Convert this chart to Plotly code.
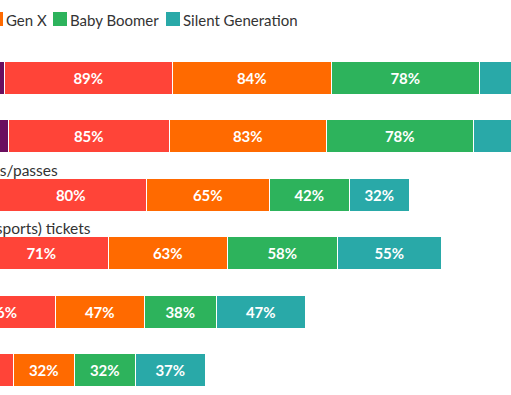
import plotly.graph_objects as go

# ---- data ----
categories = [
    "Restaurants and dining",
    "Groceries",
    "Theme park tickets/passes",
    "Live event (concerts, sports) tickets",
    "Hotels",
    "Airline tickets",
]
generations = ["Gen Z", "Millennial", "Gen X", "Baby Boomer", "Silent Generation"]
gen_z = [90, 92, 85, 74, 61, 55]
millennial = [89, 85, 80, 71, 56, 40]
gen_x = [84, 83, 65, 63, 47, 32]
baby_boomer = [78, 78, 42, 58, 38, 32]
silent_generation = [70, 68, 32, 55, 47, 37]
series = [gen_z, millennial, gen_x, baby_boomer, silent_generation]
colors = ["#6A0F5F", "#FF4438", "#FF6A00", "#2DB35C", "#29A9A8"]

W, H = 511, 395
FONT = "Lato"
TXT = "#333333"

fig = go.Figure()
for name, vals, col in zip(generations, series, colors):
    fig.add_trace(go.Bar(
        y=categories, x=vals, name=name, orientation="h",
        marker=dict(color=col, line=dict(color="white", width=1.5)),
        text=[f"{v}%" for v in vals], textposition="inside",
        insidetextanchor="middle", constraintext="none",
        textfont=dict(family=FONT, size=15, color="white", weight="bold"),
        width=0.565, showlegend=False,
    ))

def px(x):
    return x / W

def py(y):
    return 1 - y / H

annotations = []
shapes = []
# category labels above bars (right ends of visible ones)
label_right = {2: 59, 3: 92}
for i, cat in enumerate(categories):
    if i in label_right:
        annotations.append(dict(
            xref="paper", yref="y", x=px(label_right[i]), y=i - 0.436,
            text=cat, showarrow=False, xanchor="right", yanchor="middle",
            font=dict(family=FONT, size=15.5, color=TXT), borderpad=0,
        ))
    else:
        annotations.append(dict(
            xref="paper", yref="y", x=px(-165), y=i - 0.436,
            text=cat, showarrow=False, xanchor="left", yanchor="middle",
            font=dict(family=FONT, size=15.5, color=TXT), borderpad=0,
        ))

# custom legend
legend_sq = [-190, -112, -11, 53, 166]
for name, col, x0 in zip(generations, colors, legend_sq):
    shapes.append(dict(type="rect", xref="paper", yref="paper",
                       x0=px(x0), x1=px(x0 + 14), y0=py(26), y1=py(12),
                       fillcolor=col, line=dict(width=0)))
    annotations.append(dict(
        xref="paper", yref="paper", x=px(x0 + 16), y=py(19.5),
        text=name, showarrow=False, xanchor="left", yanchor="middle",
        font=dict(family=FONT, size=15, color=TXT), borderpad=0,
    ))

fig.update_layout(
    width=W, height=H,
    margin=dict(l=0, r=0, t=0, b=0),
    barmode="stack",
    bargap=0,
    plot_bgcolor="white", paper_bgcolor="white",
    xaxis=dict(range=[87.37, 357.3], visible=False, fixedrange=True),
    yaxis=dict(range=[5.418, -1.340], visible=False, fixedrange=True),
    annotations=annotations, shapes=shapes,
)

fig.write_html("out.html", config={"displayModeBar": False},
               post_script="document.body.style.margin='0';")
